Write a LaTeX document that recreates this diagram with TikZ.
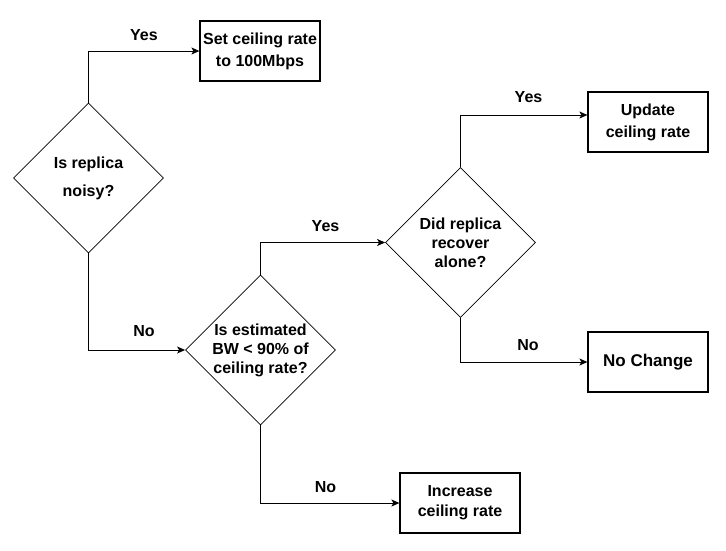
\documentclass[tikz,border=0pt]{standalone}
\usepackage{fontspec}
\setmainfont{Liberation Sans}
\usetikzlibrary{shapes.geometric,arrows.meta}
\begin{document}
\begin{tikzpicture}[x=1pt,y=-1pt,
		decision/.style={draw,diamond,line width=0.8pt,minimum width=150pt,minimum height=150pt,inner sep=0pt,align=center,font=\bfseries\fontsize{16}{19}\selectfont},
		result/.style={draw,rectangle,line width=1.2pt,minimum width=120pt,minimum height=60pt,inner sep=0pt,align=center,font=\bfseries\fontsize{16}{22}\selectfont},
		answer/.style={font=\bfseries\fontsize{16}{19}\selectfont},
		flow/.style={line width=1pt,-{Stealth[length=8pt,width=7pt,inset=2pt]}}]
			\useasboundingbox (0,0) rectangle (726,550);
			\node[decision,font=\bfseries\fontsize{16}{28}\selectfont] (noisy) at (88.5,178) {Is replica\\noisy?};
			\node[decision] (estbw) at (260.5,350) {Is estimated\\BW < 90\% of\\ceiling rate?};
			\node[decision] (recover) at (460.5,242.5) {Did replica\\recover\\alone?};
			\node[result] (setrate) at (260,51) {Set ceiling rate\\to 100Mbps};
			\node[result] (update) at (648,122) {Update\\ceiling rate};
			\node[result,font=\bfseries\fontsize{17}{20}\selectfont] (nochange) at (648,362) {No Change};
			\node[result,font=\bfseries\fontsize{16}{20}\selectfont] (increase) at (460,503) {Increase\\ceiling rate};
			\draw[flow] (noisy.north) |- (setrate.west);
			\draw[flow] (noisy.south) |- (estbw.west);
			\draw[flow] (estbw.north) |- (recover.west);
			\draw[flow] (recover.north) |- ([yshift=7pt]update.west);
			\draw[flow] (recover.south) |- (nochange.west);
			\draw[flow] (estbw.south) |- (increase.west);
			\node[answer] (yes1) at (144,35) {Yes};
			\node[answer] (no1) at (144,331) {No};
			\node[answer] (yes2) at (325.5,226) {Yes};
			\node[answer] (yes3) at (528.5,97) {Yes};
			\node[answer] (no2) at (528,345) {No};
			\node[answer] (no3) at (325.5,487) {No};
		\end{tikzpicture}
\end{document}
